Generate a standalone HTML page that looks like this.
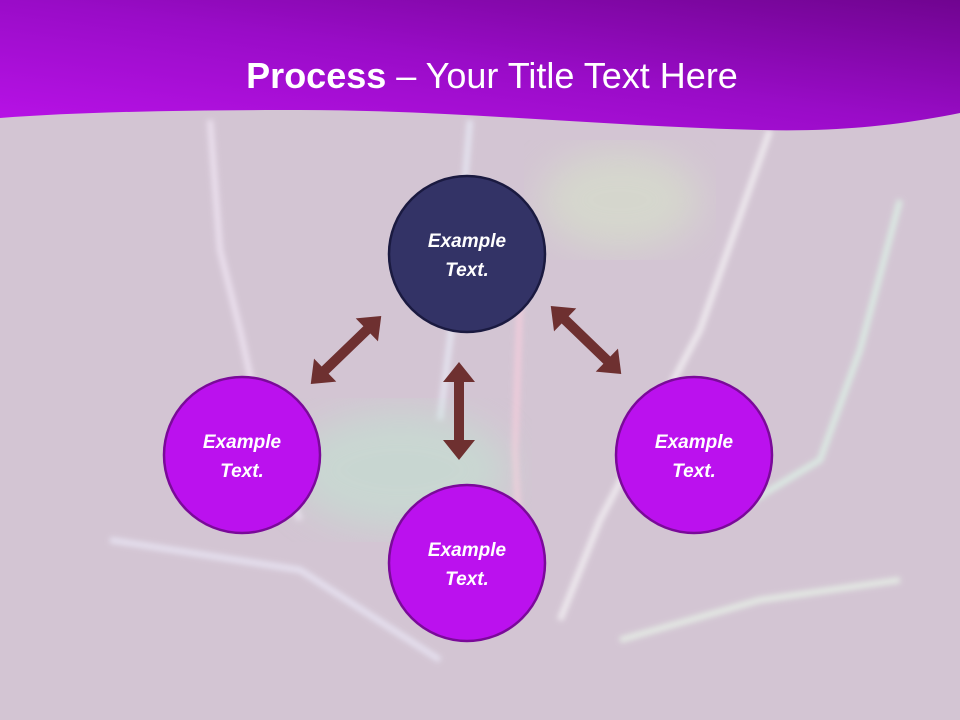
<!DOCTYPE html>
<html><head><meta charset="utf-8"><style>
html,body{margin:0;padding:0;width:960px;height:720px;overflow:hidden;background:#d3c5d3}
svg{display:block}
</style></head><body>
<svg width="960" height="720" viewBox="0 0 960 720" xmlns="http://www.w3.org/2000/svg">
<defs>
<linearGradient id="hd" x1="0" y1="1" x2="1" y2="0">
<stop offset="0" stop-color="#b912e8"/>
<stop offset="0.5" stop-color="#9a0cc8"/>
<stop offset="1" stop-color="#700490"/>
</linearGradient>
<filter id="bl"><feGaussianBlur stdDeviation="3"/></filter>
<filter id="bl2"><feGaussianBlur stdDeviation="18"/></filter>
<polygon id="arr" points="-49,0 -29,-16 -29,-5 29,-5 29,-16 49,0 29,16 29,5 -29,5 -29,16"/>
</defs>
<rect width="960" height="720" fill="#d3c5d3"/>
<g opacity="0.65" filter="url(#bl)" fill="none" stroke-width="6">
<path d="M210 120 L220 250 L240 330 L260 420 L300 520" stroke="#f8eefc"/>
<path d="M470 120 L455 300 L440 420" stroke="#eef4ff"/>
<path d="M520 300 L515 450 L520 560" stroke="#ffd0e0"/>
<path d="M770 130 L700 330 L600 520 L560 620" stroke="#ffffff"/>
<path d="M900 200 L860 350 L820 460 L720 520" stroke="#e0ffec"/>
<path d="M110 540 L300 570 L440 660" stroke="#f0f0ff"/>
<path d="M620 640 L760 600 L900 580" stroke="#eeffee"/>
</g>
<ellipse cx="400" cy="470" rx="110" ry="60" fill="#bfe8d0" opacity="0.5" filter="url(#bl2)"/>
<ellipse cx="620" cy="200" rx="80" ry="50" fill="#d8e8c8" opacity="0.5" filter="url(#bl2)"/>
<path d="M0 0 H960 V113 C900 125 840 132 760 130 C600 126 450 110 300 110 C180 110 80 112 0 118 Z" fill="url(#hd)"/>
<text x="492" y="88" text-anchor="middle" fill="#fff" font-family="Liberation Sans, sans-serif" font-size="36"><tspan font-weight="bold">Process</tspan> – Your Title Text Here</text>
<g fill="#6e3030">
<use href="#arr" transform="translate(459,411) rotate(90)"/>
<use href="#arr" transform="translate(346,350) rotate(-44)"/>
<use href="#arr" transform="translate(586,340) rotate(44)"/>
</g>
<g stroke-width="2.5" font-family="Liberation Sans, sans-serif" font-size="19" font-weight="bold" font-style="italic" fill="#fff" text-anchor="middle">
<circle cx="467" cy="254" r="78" fill="#333366" stroke="#1a1a40"/>
<circle cx="242" cy="455" r="78" fill="#bb11ee" stroke="#7a0a99"/>
<circle cx="694" cy="455" r="78" fill="#bb11ee" stroke="#7a0a99"/>
<circle cx="467" cy="563" r="78" fill="#bb11ee" stroke="#7a0a99"/>
<g stroke="none">
<text x="467" y="247">Example</text><text x="467" y="276">Text.</text>
<text x="242" y="448">Example</text><text x="242" y="477">Text.</text>
<text x="694" y="448">Example</text><text x="694" y="477">Text.</text>
<text x="467" y="556">Example</text><text x="467" y="585">Text.</text>
</g>
</g>
</svg>
</body></html>
